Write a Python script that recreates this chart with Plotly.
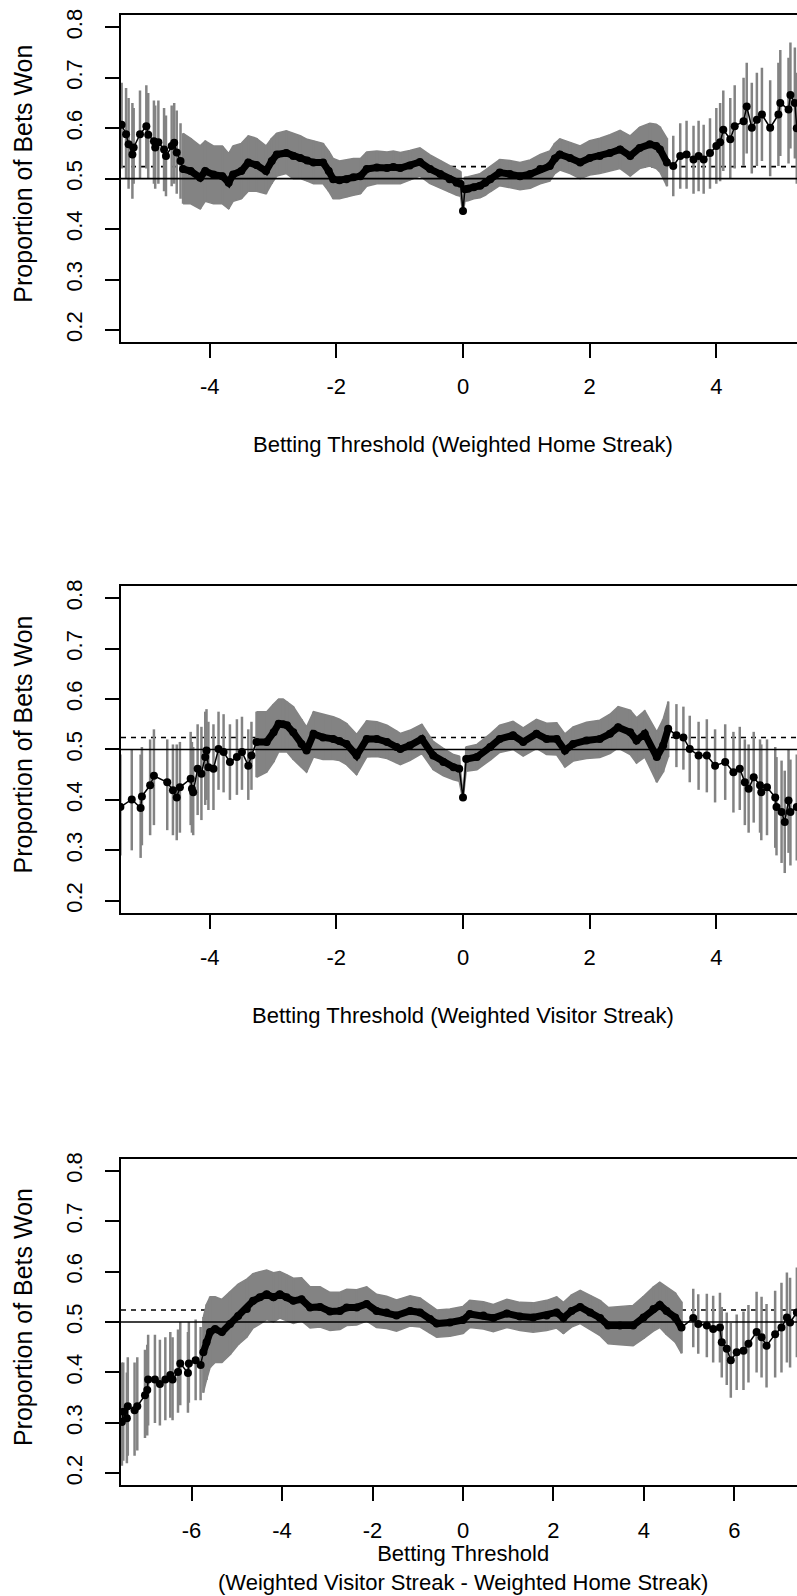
import plotly.graph_objects as go

# ---------------- data ----------------
# Panel 1: Weighted Home Streak
p1_x = [-5.39, -5.32, -5.28, -5.22, -5.20, -5.10, -5.00, -4.97, -4.88, -4.86,
        -4.81, -4.72, -4.69, -4.60, -4.56, -4.52, -4.46, -4.42,
        -4.30, -4.15, -4.07, -3.94, -3.80, -3.70, -3.63, -3.50, -3.39, -3.26,
        -3.11, -3.02, -2.94, -2.79, -2.68, -2.57, -2.46, -2.36, -2.21, -2.12,
        -2.05, -1.95, -1.84, -1.73, -1.62, -1.52, -1.36, -1.20, -1.10, -0.99,
        -0.84, -0.68, -0.52, -0.36, -0.21, -0.10, -0.04, 0.00, 0.03, 0.08,
        0.17, 0.27, 0.35, 0.43, 0.58, 0.74, 0.90, 1.06, 1.22, 1.37,
        1.45, 1.53, 1.69, 1.85, 2.00, 2.16, 2.32, 2.48, 2.64, 2.79,
        2.95, 3.05, 3.11, 3.22,
        3.32, 3.43, 3.53, 3.64, 3.72, 3.80, 3.90, 4.00, 4.06, 4.11,
        4.22, 4.29, 4.43, 4.48, 4.56, 4.64, 4.72, 4.85, 4.98, 5.01,
        5.14, 5.17, 5.24, 5.27]
p1_y = [0.607, 0.588, 0.568, 0.548, 0.562, 0.588, 0.604, 0.587, 0.574, 0.562,
        0.572, 0.558, 0.545, 0.565, 0.571, 0.552, 0.535, 0.519,
        0.515, 0.502, 0.515, 0.508, 0.505, 0.492, 0.508, 0.515, 0.532, 0.527,
        0.515, 0.535, 0.548, 0.551, 0.545, 0.541, 0.536, 0.532, 0.532, 0.515,
        0.499, 0.497, 0.499, 0.503, 0.505, 0.519, 0.522, 0.521, 0.523, 0.521,
        0.526, 0.533, 0.519, 0.509, 0.499, 0.492, 0.490, 0.436, 0.479, 0.480,
        0.483, 0.486, 0.492, 0.499, 0.512, 0.509, 0.505, 0.509, 0.519, 0.525,
        0.540, 0.548, 0.541, 0.532, 0.541, 0.545, 0.551, 0.558, 0.545, 0.561,
        0.568, 0.565, 0.558, 0.532,
        0.525, 0.545, 0.548, 0.538, 0.545, 0.538, 0.551, 0.565, 0.572, 0.597,
        0.578, 0.604, 0.614, 0.643, 0.601, 0.617, 0.627, 0.601, 0.627, 0.650,
        0.637, 0.666, 0.650, 0.600]
p1_lo = [0.520, 0.500, 0.480, 0.460, 0.490, 0.500, 0.520, 0.500, 0.490, 0.480,
         0.490, 0.475, 0.465, 0.485, 0.490, 0.470, 0.460, 0.450,
         0.450, 0.440, 0.455, 0.450, 0.450, 0.440, 0.455, 0.460, 0.475, 0.475,
         0.470, 0.490, 0.505, 0.510, 0.500, 0.500, 0.495, 0.490, 0.490, 0.475,
         0.460, 0.460, 0.463, 0.467, 0.470, 0.485, 0.490, 0.490, 0.490, 0.490,
         0.497, 0.505, 0.490, 0.482, 0.473, 0.467, 0.465, 0.428, 0.455, 0.456,
         0.460, 0.462, 0.467, 0.474, 0.486, 0.482, 0.478, 0.481, 0.490, 0.495,
         0.510, 0.517, 0.510, 0.500, 0.507, 0.510, 0.515, 0.520, 0.505, 0.520,
         0.525, 0.520, 0.513, 0.485,
         0.465, 0.480, 0.480, 0.470, 0.475, 0.470, 0.480, 0.490, 0.495, 0.515,
         0.500, 0.520, 0.525, 0.550, 0.510, 0.525, 0.535, 0.505, 0.525, 0.545,
         0.530, 0.560, 0.540, 0.490]
p1_hi = [0.690, 0.680, 0.660, 0.650, 0.640, 0.675, 0.685, 0.670, 0.655, 0.645,
         0.655, 0.640, 0.625, 0.645, 0.650, 0.635, 0.610, 0.590,
         0.580, 0.565, 0.575, 0.565, 0.565, 0.550, 0.565, 0.570, 0.585, 0.580,
         0.565, 0.580, 0.590, 0.595, 0.590, 0.585, 0.578, 0.575, 0.570, 0.555,
         0.540, 0.535, 0.537, 0.540, 0.540, 0.553, 0.555, 0.553, 0.555, 0.552,
         0.556, 0.561, 0.547, 0.536, 0.525, 0.517, 0.514, 0.444, 0.503, 0.504,
         0.507, 0.510, 0.517, 0.524, 0.538, 0.536, 0.532, 0.537, 0.548, 0.555,
         0.570, 0.579, 0.572, 0.565, 0.575, 0.580, 0.587, 0.596, 0.585, 0.602,
         0.610, 0.608, 0.603, 0.580,
         0.585, 0.610, 0.615, 0.605, 0.615, 0.607, 0.620, 0.640, 0.650, 0.675,
         0.660, 0.685, 0.700, 0.730, 0.690, 0.710, 0.720, 0.695, 0.730, 0.755,
         0.740, 0.770, 0.760, 0.710]

# Panel 2: Weighted Visitor Streak
p2_x = [-5.41, -5.23, -5.09, -5.07, -4.94, -4.88, -4.67, -4.58, -4.52, -4.47,
        -4.30, -4.28, -4.26, -4.19, -4.13, -4.07, -4.05, -4.02, -3.94, -3.86,
        -3.78, -3.68, -3.57, -3.49, -3.39, -3.34,
        -3.26, -3.10, -2.99, -2.91, -2.84, -2.78, -2.68, -2.55, -2.47, -2.36,
        -2.21, -2.05, -1.95, -1.84, -1.68, -1.52, -1.36, -1.20, -1.05, -0.99,
        -0.84, -0.65, -0.47, -0.31, -0.15, -0.06, 0.00, 0.05, 0.22, 0.43,
        0.58, 0.79, 0.95, 1.16, 1.32, 1.48, 1.61, 1.74, 1.95, 2.16,
        2.32, 2.45, 2.64, 2.74, 2.87, 3.06, 3.16, 3.24,
        3.37, 3.48, 3.58, 3.72, 3.85, 3.98, 4.14, 4.27, 4.37, 4.45,
        4.51, 4.59, 4.69, 4.71, 4.80, 4.93, 4.95, 5.03, 5.08, 5.14,
        5.17, 5.27]
p2_y = [0.386, 0.401, 0.384, 0.407, 0.429, 0.448, 0.435, 0.419, 0.405, 0.425,
        0.442, 0.422, 0.415, 0.462, 0.452, 0.485, 0.498, 0.465, 0.462, 0.501,
        0.495, 0.475, 0.485, 0.495, 0.468, 0.488,
        0.515, 0.515, 0.534, 0.551, 0.550, 0.548, 0.534, 0.511, 0.498, 0.531,
        0.524, 0.521, 0.517, 0.511, 0.488, 0.521, 0.521, 0.515, 0.505, 0.501,
        0.508, 0.521, 0.488, 0.475, 0.465, 0.462, 0.405, 0.481, 0.485, 0.505,
        0.521, 0.528, 0.515, 0.531, 0.521, 0.521, 0.498, 0.511, 0.518, 0.521,
        0.531, 0.544, 0.534, 0.518, 0.531, 0.485, 0.508, 0.541,
        0.528, 0.524, 0.501, 0.488, 0.488, 0.468, 0.475, 0.455, 0.462, 0.435,
        0.422, 0.445, 0.429, 0.415, 0.425, 0.405, 0.386, 0.376, 0.356, 0.399,
        0.376, 0.386]
p2_lo = [0.290, 0.300, 0.285, 0.310, 0.330, 0.350, 0.340, 0.330, 0.320, 0.335,
         0.350, 0.335, 0.330, 0.370, 0.360, 0.390, 0.400, 0.380, 0.380, 0.420,
         0.415, 0.400, 0.410, 0.420, 0.400, 0.420,
         0.445, 0.455, 0.475, 0.495, 0.495, 0.495, 0.480, 0.465, 0.455, 0.485,
         0.480, 0.480, 0.478, 0.470, 0.450, 0.485, 0.486, 0.482, 0.473, 0.470,
         0.478, 0.492, 0.460, 0.448, 0.440, 0.437, 0.398, 0.457, 0.460, 0.479,
         0.494, 0.500, 0.487, 0.502, 0.490, 0.489, 0.465, 0.477, 0.482, 0.484,
         0.492, 0.503, 0.490, 0.473, 0.485, 0.435, 0.455, 0.485,
         0.465, 0.460, 0.435, 0.420, 0.415, 0.395, 0.400, 0.375, 0.380, 0.350,
         0.335, 0.355, 0.335, 0.320, 0.330, 0.305, 0.290, 0.275, 0.255, 0.295,
         0.270, 0.280]
p2_hi = [0.490, 0.500, 0.490, 0.505, 0.520, 0.540, 0.520, 0.510, 0.510, 0.515,
         0.535, 0.515, 0.505, 0.550, 0.545, 0.575, 0.580, 0.555, 0.550, 0.575,
         0.570, 0.550, 0.560, 0.565, 0.540, 0.555,
         0.575, 0.575, 0.590, 0.600, 0.600, 0.595, 0.585, 0.560, 0.545, 0.575,
         0.570, 0.565, 0.560, 0.552, 0.530, 0.557, 0.555, 0.548, 0.537, 0.532,
         0.538, 0.550, 0.516, 0.502, 0.490, 0.487, 0.412, 0.505, 0.510, 0.531,
         0.548, 0.556, 0.543, 0.560, 0.552, 0.553, 0.531, 0.545, 0.554, 0.558,
         0.570, 0.585, 0.578, 0.563, 0.577, 0.535, 0.560, 0.595,
         0.590, 0.585, 0.567, 0.555, 0.560, 0.540, 0.550, 0.535, 0.545, 0.520,
         0.510, 0.535, 0.520, 0.510, 0.520, 0.505, 0.485, 0.478, 0.458, 0.500,
         0.480, 0.490]

# Panel 3: Weighted Visitor Streak - Weighted Home Streak
p3_x = [-7.54, -7.51, -7.43, -7.41, -7.26, -7.20, -7.03, -6.98, -6.96, -6.81,
        -6.70, -6.58, -6.47, -6.42, -6.30, -6.25, -6.08, -6.06, -5.91, -5.80,
        -5.74, -5.67, -5.59, -5.48, -5.33, -5.15, -4.97, -4.78, -4.64, -4.49,
        -4.34, -4.19, -4.05, -3.90, -3.75, -3.57, -3.38, -3.16, -2.94, -2.72,
        -2.57, -2.35, -2.13, -1.91, -1.69, -1.47, -1.17, -0.95, -0.73, -0.58,
        -0.29, 0.00, 0.15, 0.45, 0.67, 0.97, 1.26, 1.55, 1.85, 2.07,
        2.22, 2.40, 2.59, 2.81, 3.03, 3.21, 3.47, 3.76, 3.99, 4.21,
        4.35, 4.50, 4.69, 4.83,
        5.09, 5.20, 5.39, 5.53, 5.68, 5.72, 5.83, 5.92, 6.05, 6.20,
        6.31, 6.49, 6.60, 6.71, 6.90, 7.04, 7.16, 7.23, 7.38]
p3_y = [0.302, 0.322, 0.309, 0.333, 0.325, 0.333, 0.355, 0.365, 0.386, 0.386,
        0.377, 0.386, 0.395, 0.386, 0.401, 0.418, 0.399, 0.418, 0.424, 0.415,
        0.440, 0.460, 0.480, 0.486, 0.480, 0.496, 0.512, 0.526, 0.542, 0.549,
        0.555, 0.549, 0.555, 0.549, 0.542, 0.545, 0.529, 0.530, 0.521, 0.522,
        0.529, 0.529, 0.536, 0.522, 0.519, 0.513, 0.522, 0.519, 0.506, 0.497,
        0.499, 0.504, 0.516, 0.513, 0.508, 0.517, 0.511, 0.509, 0.513, 0.519,
        0.508, 0.522, 0.530, 0.519, 0.508, 0.493, 0.493, 0.493, 0.509, 0.526,
        0.534, 0.522, 0.509, 0.489,
        0.508, 0.496, 0.493, 0.486, 0.489, 0.460, 0.447, 0.424, 0.440, 0.443,
        0.457, 0.480, 0.470, 0.453, 0.476, 0.489, 0.509, 0.499, 0.519]
p3_lo = [0.215, 0.225, 0.220, 0.235, 0.235, 0.245, 0.270, 0.275, 0.295, 0.300,
         0.295, 0.305, 0.310, 0.305, 0.320, 0.335, 0.320, 0.340, 0.345, 0.345,
         0.360, 0.385, 0.410, 0.420, 0.420, 0.435, 0.455, 0.470, 0.488, 0.496,
         0.505, 0.500, 0.508, 0.503, 0.497, 0.502, 0.488, 0.490, 0.483, 0.485,
         0.493, 0.494, 0.502, 0.489, 0.487, 0.482, 0.492, 0.490, 0.478, 0.470,
         0.472, 0.477, 0.489, 0.486, 0.481, 0.489, 0.483, 0.480, 0.483, 0.488,
         0.477, 0.490, 0.497, 0.485, 0.473, 0.457, 0.455, 0.453, 0.467, 0.482,
         0.489, 0.475, 0.460, 0.438,
         0.450, 0.437, 0.430, 0.420, 0.420, 0.390, 0.375, 0.350, 0.365, 0.365,
         0.380, 0.400, 0.390, 0.370, 0.390, 0.400, 0.420, 0.410, 0.430]
p3_hi = [0.420, 0.420, 0.400, 0.430, 0.420, 0.430, 0.445, 0.455, 0.475, 0.475,
         0.465, 0.470, 0.480, 0.470, 0.485, 0.500, 0.480, 0.500, 0.505, 0.490,
         0.510, 0.535, 0.550, 0.550, 0.545, 0.560, 0.575, 0.585, 0.596, 0.600,
         0.603, 0.598, 0.600, 0.594, 0.587, 0.588, 0.570, 0.570, 0.559, 0.559,
         0.565, 0.564, 0.570, 0.555, 0.551, 0.544, 0.552, 0.548, 0.534, 0.524,
         0.526, 0.531, 0.543, 0.540, 0.535, 0.545, 0.539, 0.538, 0.543, 0.550,
         0.539, 0.554, 0.563, 0.553, 0.543, 0.529, 0.531, 0.533, 0.551, 0.570,
         0.579, 0.569, 0.558, 0.540,
         0.566, 0.555, 0.556, 0.552, 0.558, 0.530, 0.519, 0.498, 0.515, 0.521,
         0.534, 0.560, 0.550, 0.536, 0.562, 0.578, 0.598, 0.588, 0.608]

y_tick_vals = [0.2, 0.3, 0.4, 0.5, 0.6, 0.7, 0.8]
y_tick_text = ["0.2", "0.3", "0.4", "0.5", "0.6", "0.7", "0.8"]
p12_x_ticks = [-4, -2, 0, 2, 4]
p3_x_ticks = [-6, -4, -2, 0, 2, 4, 6]
y_title = "Proportion of Bets Won"
x_titles = ["Betting Threshold (Weighted Home Streak)",
            "Betting Threshold (Weighted Visitor Streak)",
            "Betting Threshold<br>(Weighted Visitor Streak - Weighted Home Streak)"]
even_line = 0.5
breakeven_line = 0.5238
x_limits = [5, 5, 7]
y_limits = [0.2, 0.8]
dense_spans = [(-4.45, 3.25), (-3.30, 3.30), (-5.78, 4.90)]
isolated_x = [0.0, 0.0, None]   # lone point (threshold exactly 0) drawn on its own

# ---------------- layout geometry (pixels) ----------------
W, H = 797, 1596
LEFT, RIGHT_BORDER = 121.0, 805.0          # right border lies just off the image
TOPS = [9.3, 582.3, 1157.0]
PH = 328.0
TITLE_OFFSETS = [103, 103, 83]             # centre of x title below the plot
GRAY = "#838383"
FONT = "Liberation Sans, Arial, Helvetica, sans-serif"

fig = go.Figure()

panels = [(p1_x, p1_y, p1_lo, p1_hi), (p2_x, p2_y, p2_lo, p2_hi),
          (p3_x, p3_y, p3_lo, p3_hi)]
tick_sets = [p12_x_ticks, p12_x_ticks, p3_x_ticks]

ypad = 0.04 * (y_limits[1] - y_limits[0])
yr = [y_limits[0] - ypad, y_limits[1] + ypad]

for i, (xs, ys, lo, hi) in enumerate(panels):
    assert len(xs) == len(ys) == len(lo) == len(hi), i
    n = i + 1
    xa = "x" if n == 1 else f"x{n}"
    ya = "y" if n == 1 else f"y{n}"
    d0, d1 = dense_spans[i]
    idx = [k for k, v in enumerate(xs) if d0 <= v <= d1]
    xd = [xs[k] for k in idx]
    yd = [ys[k] for k in idx]
    lod = [lo[k] for k in idx]
    hid = [hi[k] for k in idx]
    yd_chain = [None if (isolated_x[i] is not None and xs[k] == isolated_x[i])
                else ys[k] for k in idx]

    # dense confidence band
    fig.add_trace(go.Scatter(x=xd + xd[::-1], y=hid + lod[::-1], fill="toself",
                             fillcolor=GRAY, line=dict(color=GRAY, width=1.5),
                             mode="lines", hoverinfo="skip", showlegend=False,
                             xaxis=xa, yaxis=ya))
    # individual confidence intervals
    fig.add_trace(go.Scatter(x=xs, y=ys, mode="markers",
                             marker=dict(size=1, color="rgba(0,0,0,0)"),
                             error_y=dict(type="data", symmetric=False,
                                          array=[h - v for h, v in zip(hi, ys)],
                                          arrayminus=[v - l for v, l in zip(ys, lo)],
                                          color=GRAY, thickness=2.5, width=0),
                             showlegend=False, xaxis=xa, yaxis=ya))
    # thick chain of overlapping points in the dense part
    fig.add_trace(go.Scatter(x=xd, y=yd_chain, mode="lines",
                             line=dict(color="black", width=7),
                             connectgaps=False,
                             showlegend=False, xaxis=xa, yaxis=ya))
    # points
    fig.add_trace(go.Scatter(x=xs, y=ys, mode="lines+markers",
                             line=dict(color="black", width=1.5),
                             marker=dict(size=8, color="black"),
                             showlegend=False, xaxis=xa, yaxis=ya))

    # reference lines
    fig.add_shape(type="line", xref=f"{xa} domain", x0=0, x1=1, yref=ya,
                  y0=breakeven_line, y1=breakeven_line,
                  line=dict(color="black", width=1.6, dash="5px,5px"), layer="below")
    fig.add_shape(type="line", xref=f"{xa} domain", x0=0, x1=1, yref=ya,
                  y0=even_line, y1=even_line,
                  line=dict(color="black", width=1.6), layer="above")

    # axes
    L = x_limits[i] * 1.08
    px_per_unit = (RIGHT_BORDER - LEFT) / (2 * L)
    xr = [-L, L - (RIGHT_BORDER - W) / px_per_unit]
    top = TOPS[i]
    ydom = [1 - (top + PH) / H, 1 - top / H]
    axis_common = dict(showgrid=False, zeroline=False, showline=True,
                       linecolor="black", linewidth=1.6, ticks="outside",
                       ticklen=14, tickwidth=1.6, tickcolor="black")
    fig.update_layout(**{
        ("xaxis" if n == 1 else f"xaxis{n}"): dict(
            domain=[LEFT / W, 1], range=xr, anchor=ya, mirror=True,
            tickvals=tick_sets[i], ticktext=[str(t) for t in tick_sets[i]],
            ticklabelstandoff=10,
            tickfont=dict(family=FONT, size=22, color="black"), **axis_common),
        ("yaxis" if n == 1 else f"yaxis{n}"): dict(
            domain=ydom, range=yr, anchor=xa, mirror=False,
            tickvals=y_tick_vals, ticktext=y_tick_text, tickangle=-90,
            ticklabelstandoff=14,
            tickfont=dict(family=FONT, size=22, color="black"), **axis_common),
    })

    # axis titles
    fig.add_annotation(text=y_title, textangle=-90, x=23 / W,
                       y=1 - (top + PH / 2 - 5) / H, xref="paper", yref="paper",
                       xanchor="center", yanchor="middle", showarrow=False,
                       font=dict(family=FONT, size=25, color="black"))
    cx = ((LEFT + RIGHT_BORDER) / 2) / W
    fig.add_annotation(text=x_titles[i], x=cx,
                       y=1 - (top + PH + TITLE_OFFSETS[i]) / H,
                       xref="paper", yref="paper", xanchor="center",
                       yanchor="middle", showarrow=False,
                       font=dict(family=FONT, size=22, color="black"))

fig.update_layout(width=W, height=H, margin=dict(l=0, r=0, t=0, b=0),
                  paper_bgcolor="white", plot_bgcolor="white",
                  font=dict(family=FONT, color="black"), showlegend=False)

fig.write_html("out.html")
